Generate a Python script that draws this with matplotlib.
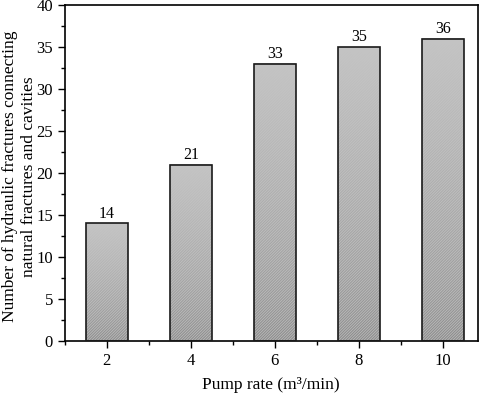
import matplotlib
matplotlib.use("Agg")
import matplotlib.pyplot as plt
import numpy as np
from matplotlib.ticker import MultipleLocator

pump_rate = [2, 4, 6, 8, 10]
counts = [14, 21, 33, 35, 36]

plt.rcParams['font.family'] = ['Liberation Serif', 'DejaVu Serif']
plt.rcParams['hatch.linewidth'] = 0.8
plt.rcParams['hatch.color'] = '#8a8a8a'

fig = plt.figure(figsize=(4.84, 3.96), dpi=100)
ax = fig.add_axes([0.134, 0.139, 0.853, 0.848])

ax.bar(pump_rate, counts, width=1.0, facecolor='#bababa',
       edgecolor='#8a8a8a', hatch='/' * 12, linewidth=0, zorder=2)

n = 256
for x, h in zip(pump_rate, counts):
    a = np.linspace(0, 1, n) ** 0.7
    img = np.zeros((n, 1, 4))
    img[..., 0] = 0.77
    img[..., 1] = 0.77
    img[..., 2] = 0.77
    img[:, 0, 3] = a
    ax.imshow(img, extent=(x - 0.5, x + 0.5, 0, h), origin='lower',
              aspect='auto', zorder=3, interpolation='bilinear')
    ax.bar(x, h, width=1.0, facecolor='none', edgecolor='#1a1a1a',
           linewidth=1.2, zorder=4)
    ax.text(x, h + 0.2, str(h), ha='center', va='bottom', fontsize=11.5, zorder=5)

ax.set_xlim(1.0, 10.83)
ax.set_ylim(0, 40)
ax.xaxis.set_major_locator(MultipleLocator(2))
ax.xaxis.set_minor_locator(MultipleLocator(1))
ax.yaxis.set_major_locator(MultipleLocator(5))
ax.yaxis.set_minor_locator(MultipleLocator(2.5))
ax.tick_params(which='major', direction='out', length=5, width=1.0, labelsize=12)
ax.tick_params(which='minor', direction='out', length=3, width=1.0)
ax.tick_params(top=False, right=False, which='both')
for s in ax.spines.values():
    s.set_linewidth(1.2)

ax.set_xlabel('Pump rate (m\u00b3/min)', fontsize=12.5, labelpad=6)
ax.set_ylabel('Number of hydraulic fractures connecting\nnatural fractures and cavities',
              fontsize=12.5, linespacing=1.25, va='center')
ax.yaxis.set_label_coords(-0.111, 0.49)

fig.savefig('out.png', dpi=100)
